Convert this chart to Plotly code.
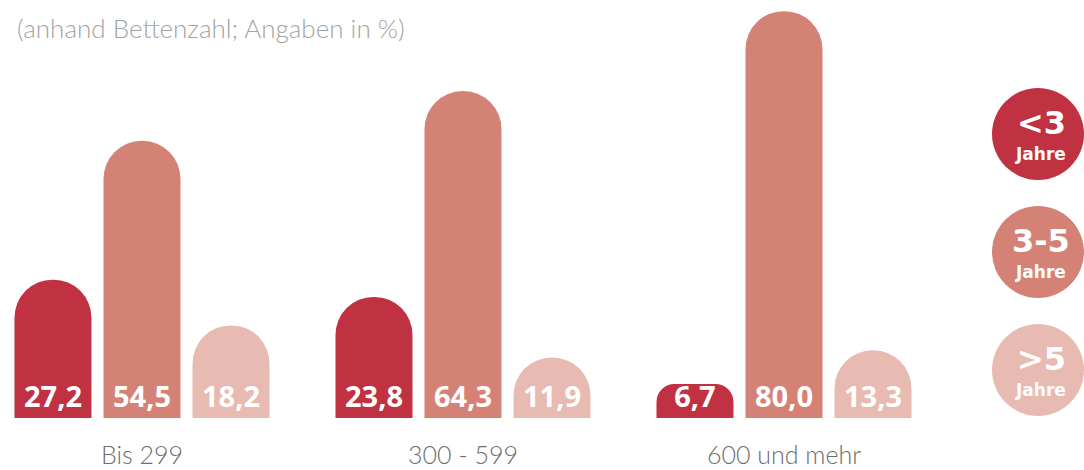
import plotly.graph_objects as go

categories = ["Bis 299", "300 - 599", "600 und mehr"]
series_names = ["<3", "3-5", ">5"]
lt3 = [27.2, 23.8, 6.7]
mid = [54.5, 64.3, 80.0]
gt5 = [18.2, 11.9, 13.3]
subtitle = "(anhand Bettenzahl; Angaben in %)"
legend_sub = "Jahre"

colors = ["#c03241", "#d58276", "#e8bbb2"]
W, H = 1084, 470
PLOT_BOTTOM = 418
SHORT = 8.0  # bars lower than this get small corner rounding instead of a full dome

fig = go.Figure()
for i, (name, vals, col) in enumerate(zip(series_names, [lt3, mid, gt5], colors)):
    tall = [v if v >= SHORT else None for v in vals]
    short = [v if v < SHORT else None for v in vals]
    for part, rad in ((tall, "50%"), (short, 18)):
        if all(v is None for v in part):
            continue
        fig.add_trace(go.Bar(
            x=categories, y=part, name=name, offsetgroup=str(i),
            marker=dict(color=col, cornerradius=rad, line=dict(width=0)),
            texttemplate="%{y:.1f}", textposition="inside", insidetextanchor="start",
            textfont=dict(family="Noto Sans", size=29, color="white", weight=700),
            hoverinfo="skip", showlegend=False,
        ))

def px_x(p):
    return p / W

def px_y(p):
    return (PLOT_BOTTOM - p) / PLOT_BOTTOM

shapes = []
annotations = []
centers_y = [134, 252, 370]
cx = 1038
r = 46
for name, col, cy in zip(series_names, colors, centers_y):
    shapes.append(dict(type="circle", xref="paper", yref="paper",
                       xsizemode="pixel", ysizemode="pixel",
                       xanchor=px_x(cx), yanchor=px_y(cy),
                       x0=-r, x1=r, y0=-r, y1=r,
                       fillcolor=col, line=dict(width=0), layer="above"))
    annotations.append(dict(text=name, xref="paper", yref="paper",
                            x=px_x(cx + 3), y=px_y(cy - 11), showarrow=False,
                            xanchor="center", yanchor="middle",
                            font=dict(family="DejaVu Sans", size=32, color="white", weight=700)))
    annotations.append(dict(text=legend_sub, xref="paper", yref="paper",
                            x=px_x(cx + 2), y=px_y(cy + 20), showarrow=False,
                            xanchor="center", yanchor="middle",
                            font=dict(family="DejaVu Sans", size=17, color="white", weight=700)))

annotations.append(dict(text=subtitle, xref="paper", yref="paper",
                        x=px_x(15), y=px_y(28), showarrow=False,
                        xanchor="left", yanchor="middle",
                        font=dict(family="Lato", size=26, color="#a3a3a3", weight=300)))

x0 = -142 / 321
fig.update_layout(
    width=W, height=H,
    margin=dict(l=0, r=0, t=0, b=H - PLOT_BOTTOM, pad=0, autoexpand=False),
    paper_bgcolor="white", plot_bgcolor="white",
    barmode="group", bargap=0.168, bargroupgap=0.135,
    separators=",.",
    uniformtext=dict(minsize=29, mode="show"),
    xaxis=dict(range=[x0, x0 + W / 321], showgrid=False, zeroline=False,
               showline=False, ticks="", ticklabelstandoff=20, automargin=False,
               tickfont=dict(family="Lato", size=25, color="#6e6e6e", weight=300)),
    yaxis=dict(range=[0, 82.2], visible=False, automargin=False),
    shapes=shapes, annotations=annotations,
)

fig.write_html("out.html", config={"displayModeBar": False},
               post_script="document.body.style.margin='0';document.body.style.padding='0';")
